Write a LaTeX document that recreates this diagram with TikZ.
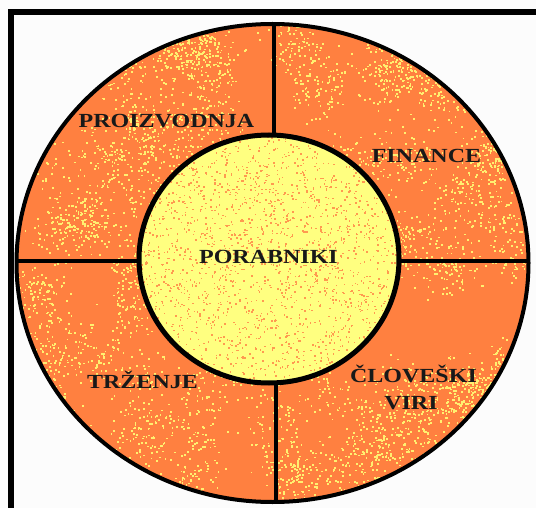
\documentclass[tikz,border=0pt]{standalone}
\usepackage{fontspec}
\newfontfamily\lblfont[FakeStretch=1.2]{Liberation Serif}
\begin{document}
\begin{tikzpicture}[x=1pt,y=-1pt]
\definecolor{ring}{HTML}{FF8040}
\definecolor{core}{HTML}{FFFF80}
\definecolor{speckY}{HTML}{FFF070}
\definecolor{speckO}{HTML}{FF9A50}
\tikzset{
  lbl/.style={font=\lblfont\bfseries\fontsize{20}{22}\selectfont, inner sep=0pt, anchor=base, text=black!90},
  divider/.style={line width=4pt, black},
  rim/.style={line width=4pt, black},
}
\useasboundingbox (0,0) rectangle (536,508);
\fill[white!99!black] (0,0) rectangle (536,508);
% outer ring
\fill[ring] (272.5,263) ellipse [x radius=256, y radius=239];
\begin{scope}
  \clip (272.5,263) ellipse [x radius=256, y radius=239];
  \pgfmathsetseed{7}
  \foreach \c in {1,...,110}{
    \pgfmathsetmacro\cx{20+rnd*500}
    \pgfmathsetmacro\cy{25+rnd*475}
    \foreach \d in {1,...,55}{
      \pgfmathsetmacro\dx{\cx+(rnd+rnd+rnd-1.5)*30}
      \pgfmathsetmacro\dy{\cy+(rnd+rnd+rnd-1.5)*30}
      \fill[speckY] (\dx,\dy) rectangle ++(1.8,1.8);
    }
  }
\end{scope}
% inner core
\fill[core] (269,259) ellipse [x radius=130, y radius=124];
\begin{scope}
  \clip (269,259) ellipse [x radius=130, y radius=124];
  \pgfmathsetseed{11}
  \foreach \d in {1,...,2200}{
    \pgfmathsetmacro\dx{139+rnd*260}
    \pgfmathsetmacro\dy{135+rnd*248}
    \fill[speckO] (\dx,\dy) rectangle ++(1.5,1.5);
  }
\end{scope}
% dividers
\coordinate (ot) at (273.5,24.5);
\coordinate (it) at (273.5,135.5);
\coordinate (ib) at (275.5,382.5);
\coordinate (ob) at (275.5,501.5);
\coordinate (ol) at (16.5,261);
\coordinate (il) at (139.5,261);
\coordinate (ir) at (398.5,261);
\coordinate (or) at (528.5,261);
\draw[divider] (ot) -- (it);
\draw[divider] (ib) -- (ob);
\draw[divider] (ol) -- (il);
\draw[divider] (ir) -- (or);
\draw[rim] (272.5,263) ellipse [x radius=256, y radius=239];
\draw[rim, line width=5pt] (269,259) ellipse [x radius=130, y radius=124];
% frame
\draw[line width=6pt] (11,508) -- (11,12) -- (536,12);
% labels
\node[lbl] (proiz) at (166.5,128) {PROIZVODNJA};
\node[lbl] (fin) at (426.5,163) {FINANCE};
\node[lbl] (por) at (268.5,263) {PORABNIKI};
\node[lbl] (trz) at (142.5,388) {TRŽENJE};
\node[lbl] (clov) at (413.5,382) {ČLOVEŠKI};
\node[lbl] (viri) at (411,409) {VIRI};
\end{tikzpicture}
\end{document}
